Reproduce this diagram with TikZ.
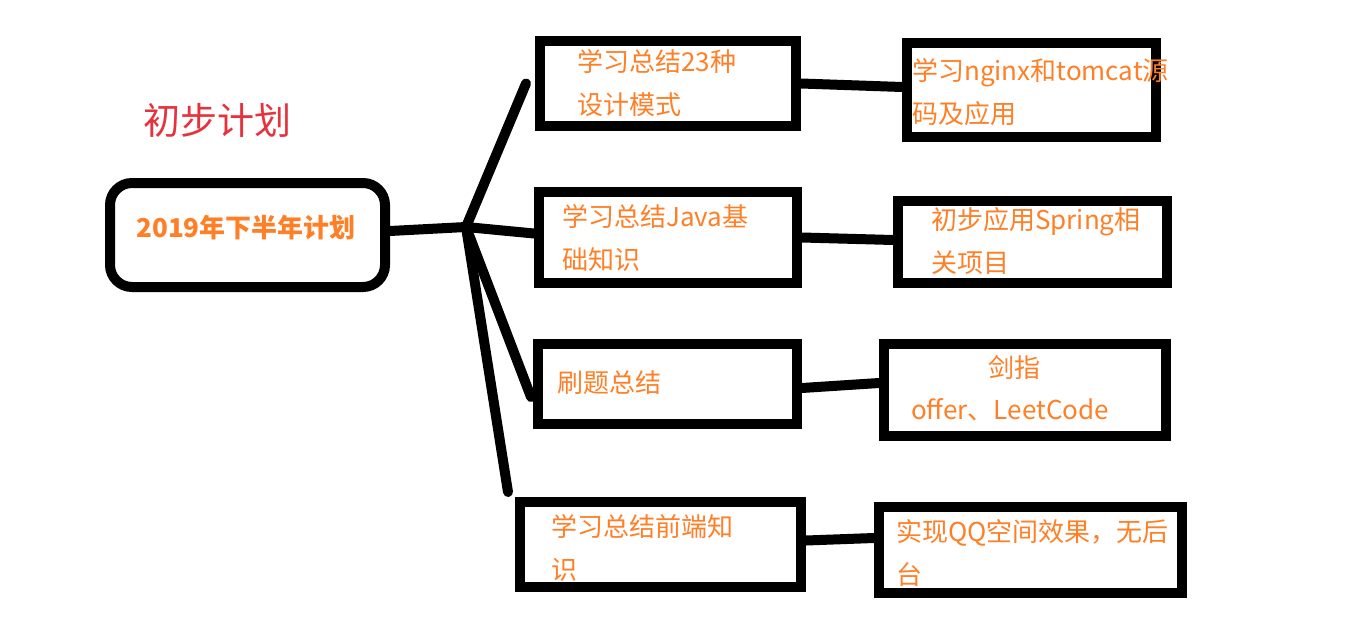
\documentclass[tikz,border=0pt]{standalone}
\usepackage{fontspec}
\setmainfont{Noto Sans CJK SC}
\definecolor{planorange}{RGB}{255,127,39}
\definecolor{planred}{RGB}{230,50,60}
\tikzset{
    planbox/.style={draw=black, line width=10pt, rectangle, inner sep=0pt},
    plantext/.style={text=planorange, anchor=west, align=left, inner sep=0pt,
        font=\fontsize{26}{43}\selectfont},
    branch/.style={draw=black, line width=10pt, line cap=round, line join=round}
}
\begin{document}
\begin{tikzpicture}[x=1pt, y=-1pt]
                \useasboundingbox (0,0) rectangle (1350,629);

                % Draw title
                \node[text=planred, anchor=west, inner sep=0pt, font=\fontsize{37}{37}\selectfont] (title) at (143,120) {初步计划};

                % Draw root
                \node[planbox, rounded corners=22pt, minimum width=275pt, minimum height=104pt] (root) at (247.5,235) {};
                \node[text=planorange, inner sep=0pt, font=\fontsize{26}{26}\selectfont\bfseries] (roottext) at (246,228) {2019年下半年计划};

                % Draw first column
                \node[planbox, minimum width=256pt, minimum height=85pt] (a1) at (668,83.5) {};
                \node[planbox, minimum width=258pt, minimum height=91pt] (a2) at (668,237.5) {};
                \node[planbox, minimum width=259pt, minimum height=80pt] (a3) at (667.5,384) {};
                \node[planbox, minimum width=281pt, minimum height=85pt] (a4) at (660.5,544.5) {};

                % Draw second column
                \node[planbox, minimum width=249pt, minimum height=94pt] (b1) at (1031.5,90) {};
                \node[planbox, minimum width=269pt, minimum height=82pt] (b2) at (1032.5,242) {};
                \node[planbox, minimum width=282pt, minimum height=92pt] (b3) at (1025,390) {};
                \node[planbox, minimum width=303pt, minimum height=86pt] (b4) at (1030.5,550) {};

                % Texts in the boxes
                \node[plantext] (a1text) at (577,83) {学习总结23种\\设计模式};
                \node[plantext] (a2text) at (562,237.5) {学习总结Java基\\础知识};
                \node[plantext] (a3text) at (557,383) {刷题总结};
                \node[plantext] (a4text) at (551,547.5) {学习总结前端知\\识};
                \node[plantext] (b1text) at (912,92.5) {学习nginx和tomcat源\\码及应用};
                \node[plantext] (b2text) at (931,241) {初步应用Spring相\\关项目};
                \node[plantext] (b3top) at (988,367) {剑指};
                \node[plantext] (b3text) at (911,410) {offer、LeetCode};
                \node[plantext] (b4text) at (896,553.5) {实现QQ空间效果，无后\\台};

                % Draw branches
                \coordinate (hub) at (466,227);
                \draw[branch] ([yshift=4pt]root.east) -- (hub);
                \draw[branch] (hub) -- ([xshift=-9pt]a1.west);
                \draw[branch] (hub) -- ([yshift=4pt]a2.west);
                \draw[branch] (hub) -- ([xshift=-2pt,yshift=-13pt]a3.west);
                \draw[branch] (hub) -- ([xshift=-7pt,yshift=5pt]a4.north west);

                % Connect the columns
                \draw[branch] (a1.east) -- ([yshift=3pt]b1.west);
                \draw[branch] (a2.east) -- ([yshift=2pt]b2.west);
                \draw[branch] ([yshift=-4pt]a3.east) -- ([yshift=7pt]b3.west);
                \draw[branch] ([yshift=4pt]a4.east) -- ([yshift=12pt]b4.west);
            \end{tikzpicture}
\end{document}
